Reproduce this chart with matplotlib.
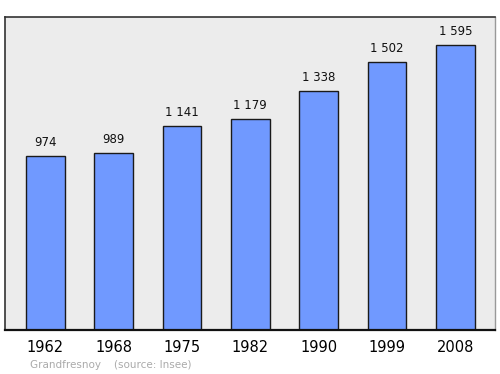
import matplotlib
matplotlib.use('Agg')
import matplotlib.pyplot as plt

# Population de Grandfresnoy
annees = ['1962', '1968', '1975', '1982', '1990', '1999', '2008']
population = [974, 989, 1141, 1179, 1338, 1502, 1595]
etiquettes = ['974', '989', '1 141', '1 179', '1 338', '1 502', '1 595']

fig = plt.figure(figsize=(5, 3.74), dpi=100)
ax = fig.add_axes([0.01, 0.1176, 0.98, 0.837])
ax.set_facecolor('#ececec')

x = range(len(annees))
ax.bar(x, population, width=0.57, color='#7099ff', edgecolor='#1a1a1a', linewidth=1.0, zorder=2)
for i, (v, t) in enumerate(zip(population, etiquettes)):
    ax.annotate(t, (i, v), xytext=(0, 5), textcoords='offset points',
                ha='center', va='bottom', fontsize=8.5, color='#111111')

ax.set_xlim(-0.59, 6.58)
ax.set_ylim(0, 1752)
ax.set_yticks([])
ax.set_xticks(list(x))
ax.set_xticklabels(annees, fontsize=10.5)
ax.tick_params(axis='x', length=0, pad=7)

for side in ['top', 'left']:
    ax.spines[side].set_color('#333333')
    ax.spines[side].set_linewidth(1.2)
ax.spines['right'].set_color('#999999')
ax.spines['right'].set_linewidth(1.0)
ax.spines['bottom'].set_color('#111111')
ax.spines['bottom'].set_linewidth(1.6)

fig.text(0.06, 0.016, 'Grandfresnoy    (source: Insee)', fontsize=7.5, color='#aaaaaa')

fig.savefig('out.png', dpi=100)
